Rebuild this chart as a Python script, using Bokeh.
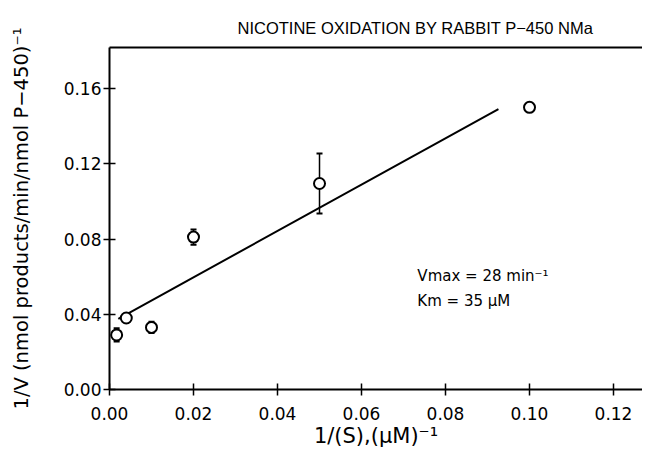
from bokeh.plotting import figure
from bokeh.models import (ColumnDataSource, Whisker, TeeHead, LinearAxis, FixedTicker,
                          NumeralTickFormatter, Label)
from bokeh.embed import file_html
from bokeh.resources import INLINE

# ---- data ----
inv_s = [0.0017, 0.004, 0.010, 0.020, 0.050, 0.100]
inv_v = [0.029, 0.038, 0.033, 0.081, 0.1095, 0.150]
err = [0.0035, 0.0, 0.003, 0.004, 0.016, 0.0]
fit_x = [0.0021, 0.0926]
fit_y = [0.0376, 0.149]
x_ticks = [0.0, 0.02, 0.04, 0.06, 0.08, 0.10, 0.12]
y_ticks = [0.0, 0.04, 0.08, 0.12, 0.16]

FONT = "DejaVu Sans"

p = figure(width=642, height=450, x_range=(0, 0.1269), y_range=(0, 0.1818),
           output_backend="svg", toolbar_location=None,
           min_border_left=109, min_border_right=0, min_border_top=47, min_border_bottom=61)
p.outline_line_color = None
p.xgrid.visible = False
p.ygrid.visible = False

p.title.text = "NICOTINE OXIDATION BY RABBIT P\u2212450 NMa"
p.title.text_font = "Liberation Sans"
p.title.text_font_style = "normal"
p.title.text_font_size = "16.5px"
p.title.text_color = "black"
p.title.align = "left"
p.title.offset = 128
p.title.standoff = 22

for ax in (p.xaxis[0], p.yaxis[0]):
    ax.axis_line_width = 2
    ax.axis_line_color = "black"
    ax.major_tick_line_width = 1.5
    ax.major_tick_line_color = "black"
    ax.major_tick_in = 6
    ax.major_tick_out = 6
    ax.minor_tick_line_color = None
    ax.major_label_text_font = FONT
    ax.major_label_text_font_size = "17px"
    ax.major_label_text_color = "black"
    ax.axis_label_text_font = FONT
    ax.axis_label_text_color = "black"
    ax.axis_label_text_font_style = "normal"
    ax.formatter = NumeralTickFormatter(format="0.00")

p.xaxis[0].ticker = FixedTicker(ticks=x_ticks)
p.yaxis[0].ticker = FixedTicker(ticks=y_ticks)
p.xaxis[0].axis_label = "1/(S),(\u03bcM)\u207b\u00b9"
p.yaxis[0].axis_label = "1/V (nmol products/min/nmol P\u2212450)\u207b\u00b9"
p.xaxis[0].axis_label_text_font_size = "21px"
p.yaxis[0].axis_label_text_font_size = "19.5px"
p.yaxis[0].major_label_standoff = 2
p.yaxis[0].axis_label_standoff = 28
p.xaxis[0].major_label_standoff = 11
p.xaxis[0].axis_label_standoff = 1

top = LinearAxis(ticker=FixedTicker(ticks=[]), axis_line_width=2, axis_line_color="black",
                 major_tick_line_color=None, minor_tick_line_color=None,
                 major_label_text_font_size="0px")
p.add_layout(top, "above")

src = ColumnDataSource(dict(x=inv_s, y=inv_v,
                            upper=[v + e for v, e in zip(inv_v, err)],
                            lower=[v - e for v, e in zip(inv_v, err)]))
w = Whisker(source=src, base="x", upper="upper", lower="lower", dimension="height",
            line_width=1.5, line_color="black",
            upper_head=TeeHead(size=6, line_width=2), lower_head=TeeHead(size=6, line_width=2))
p.add_layout(w)

p.line(fit_x, fit_y, line_color="black", line_width=2)
p.scatter("x", "y", source=src, size=11, fill_color="white", line_color="black", line_width=2)

p.add_layout(Label(x=0.0733, y=0.0601, text="Vmax = 28 min\u207b\u00b9", text_font=FONT,
                   text_font_size="15px", text_color="black", text_baseline="alphabetic"))
p.add_layout(Label(x=0.0733, y=0.0473, text="Km = 35 \u03bcM", text_font=FONT,
                   text_font_size="15px", text_color="black", text_baseline="alphabetic"))

open("out.html", "w").write(file_html(p, INLINE))
